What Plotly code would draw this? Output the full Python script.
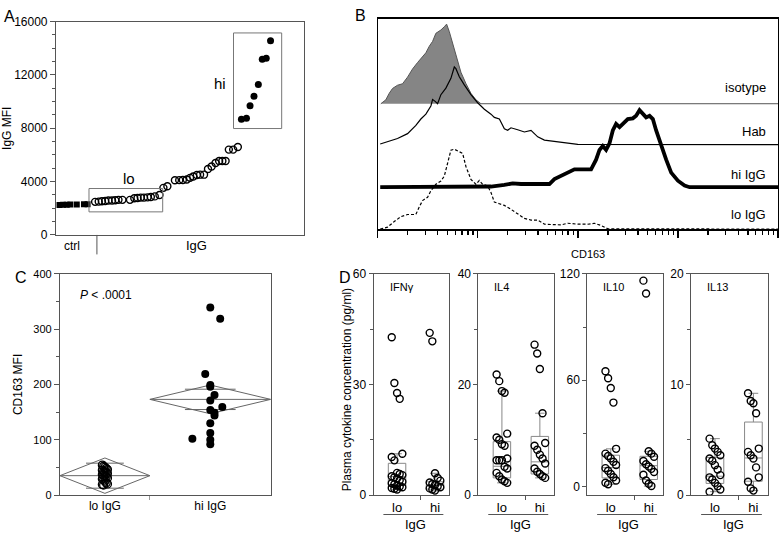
import math
import plotly.graph_objects as go

FONT = "Liberation Sans, Arial, sans-serif"
OFF = 0
W, H = 780, 540

# ---------------- Panel A data ----------------
ctrl_rank = [1, 2, 3, 4, 5.8, 7.8, 8.8]
ctrl_mfi = [2250, 2260, 2270, 2280, 2290, 2300, 2310]
lo_rank = [10.9, 11.9, 12.8, 13.7, 14.6, 15.6, 16.5, 17.4, 18.5, 20.6, 21.8, 22.7, 23.6, 24.5,
           25.5, 26.4, 27.5, 28.8, 29.9, 31.0, 33.1, 34.3, 35.3, 36.4, 37.3, 38.2, 39.2, 40.1,
           41.2, 42.3, 43.3, 44.4, 45.4, 46.3, 47.2, 48.1, 49.3, 50.6]
lo_mfi = [2480, 2500, 2530, 2550, 2580, 2580, 2600, 2630, 2630, 2630, 2750, 2770, 2800, 2800,
          2820, 2850, 2890, 2990, 3530, 3650, 4100, 4110, 4120, 4160, 4280, 4380, 4500, 4520,
          4520, 4940, 5130, 5400, 5540, 5540, 5540, 6400, 6400, 6590]
hi_rank = [51.6, 53.0, 54.0, 55.1, 56.3, 57.4, 58.5, 59.7]
hi_mfi = [8680, 8750, 9680, 10410, 11280, 13180, 13250, 14570]

# ---------------- Panel B data (log10 CD163, counts) ----------------
iso_log = [0.033, 0.083, 0.117, 0.15, 0.2, 0.25, 0.3, 0.35, 0.4, 0.45, 0.483, 0.517, 0.55,
           0.583, 0.633, 0.667, 0.69, 0.717, 0.75, 0.783, 0.833, 0.883, 0.933, 0.983, 1.033, 4.0]
iso_cnt = [0, 4, 10.7, 15.7, 19, 20.5, 27.3, 35.7, 42.3, 49, 52.3, 59, 64, 72.3, 75.7, 79,
           81.7, 74, 62.3, 49, 32.3, 20.7, 10.7, 4, 0, 0]
hab_log = [0.027, 0.1, 0.2, 0.3, 0.383, 0.433, 0.483, 0.533, 0.55, 0.573, 0.6, 0.633, 0.683,
           0.733, 0.767, 0.783, 0.817, 0.867, 0.933, 1.0, 1.067, 1.133, 1.167, 1.217, 1.267,
           1.3, 1.333, 1.4, 1.467, 1.533, 1.6, 1.667, 1.733, 1.8, 1.867, 1.933, 2.0, 4.0]
hab_cnt = [0.7, 3, 6.3, 11.3, 19.7, 26.3, 31.3, 39.7, 46.3, 44.7, 42, 51.3, 58, 68, 79.7, 78,
           69.7, 61.3, 51.3, 43, 36.3, 31.3, 28, 26.3, 16.3, 14.7, 17.3, 15.3, 13, 14.7, 8,
           4.7, 3.7, 3, 2.3, 1.3, 0.3, 0]
hiB_log = [0.027, 1.1, 1.133, 1.267, 1.35, 1.433, 1.533, 1.667, 1.717, 1.767, 1.833, 1.9,
           1.967, 2.133, 2.183, 2.217, 2.25, 2.283, 2.317, 2.35, 2.383, 2.417, 2.5, 2.55, 2.583,
           2.617, 2.65, 2.683, 2.717, 2.75, 2.783, 2.833, 2.883, 2.933, 3.0, 3.067, 3.117, 4.0]
hiB_cnt = [0, 0, 0.7, 2.3, 4, 3.3, 3.3, 3.3, 3.3, 8.3, 11.7, 15, 18.3, 18.3, 28.3, 38.3, 42.3,
           38.3, 45, 58.3, 65, 61.7, 70, 70.7, 73.3, 79, 75, 71.7, 73.3, 70, 58.3, 41.7, 28.3,
           15, 6.7, 1.7, 0, 0]
loB_log = [0.027, 0.1, 0.167, 0.233, 0.3, 0.383, 0.417, 0.45, 0.5, 0.533, 0.583, 0.633, 0.667,
           0.7, 0.733, 0.767, 0.817, 0.85, 0.883, 0.933, 0.983, 1.017, 1.05, 1.1, 1.133, 1.167,
           1.217, 1.267, 1.333, 1.4, 1.467, 1.533, 1.6, 1.667, 1.833, 1.9, 2.0, 2.1, 2.167,
           2.233, 2.3, 4.0]
loB_cnt = [0, 2, 7.7, 12.7, 15, 15, 22.7, 29.3, 32.7, 39.3, 46, 49.3, 54.3, 67.7, 81, 82,
           79.3, 77.7, 64.3, 51, 46, 50, 46, 44.3, 37.7, 27.7, 26, 24.3, 20.3, 16, 11, 9.3, 9.3,
           5, 4.3, 6, 5, 5, 6, 3.7, 0.3, 0]
hist_labels = ["isotype", "Hab", "hi IgG", "lo IgG"]

# ---------------- Panel C data ----------------
groups_c = ["lo IgG", "hi IgG"]
c_lo = [54, 52, 50, 48, 46, 45, 43, 42, 40, 39, 37, 36, 35, 33, 31, 29, 27, 25, 22, 20, 19, 18]
c_hi = [339, 319, 219, 199, 196, 181, 171, 159, 154, 149, 144, 130, 112, 102, 100, 92]
c_hi_jit = [0, 0.047, -0.024, 0, 0, 0.02, 0, 0.057, 0, 0.02, 0.02, 0, 0, -0.085, 0, 0]
c_mean = [35, 173]
c_ci = [32, 26]

# ---------------- Panel D data ----------------
cyto_names = ["IFNγ", "IL4", "IL10", "IL13"]
cyto_lo = [
    [42.8, 30.4, 27.7, 26.1, 11.2, 10.3, 9.4, 6.0, 5.7, 5.4, 5.1, 4.8, 4.5, 4.0, 3.6, 3.2, 2.9,
     2.6, 2.3, 2.1, 1.9, 1.7, 1.5],
    [21.8, 20.6, 18.8, 18.5, 11.1, 10.4, 10.0, 9.2, 8.9, 6.6, 6.3, 6.3, 6.3, 5.1, 4.8, 4.0, 3.4,
     2.8, 2.5, 2.2],
    [65.1, 61.1, 55.6, 47.4, 21.3, 18.6, 17.3, 15.9, 14.0, 12.2, 10.4, 8.9, 7.1, 5.3, 3.4, 2.2,
     1.3],
    [5.1, 4.5, 4.2, 3.9, 3.6, 3.3, 3.1, 2.7, 2.3, 1.8, 1.6, 1.4, 1.1, 0.8, 0.5, 0.3],
]
cyto_hi = [
    [44.0, 41.7, 5.9, 4.6, 3.9, 3.4, 3.0, 2.7, 2.4, 2.1, 1.8, 1.5, 1.2],
    [27.2, 25.6, 22.8, 14.8, 9.4, 8.9, 8.2, 7.3, 6.6, 5.7, 4.8, 4.2, 3.8, 3.4, 3.1],
    [116.2, 108.9, 19.9, 18.6, 16.8, 14.4, 12.6, 11.3, 10.0, 8.2, 6.7, 3.4, 1.6, 0.3],
    [9.2, 8.5, 8.3, 7.4, 4.2, 3.9, 3.6, 3.3, 2.5, 1.6, 1.2, 0.6, 0.4],
]
# box stats: [lowerfence, q1, median, q3, upperfence]
box_lo = [[1.5, 2.6, 5.0, 8.6, 11.2], [2.2, 3.1, 5.2, 9.65, 18.8],
          [1.3, 4.9, 10.7, 17.7, 21.3], [0.3, 1.05, 1.7, 3.4, 5.1]]
box_hi = [[1.1, 1.6, 2.6, 3.6, 5.9], [3.1, 3.8, 6.0, 10.6, 14.8],
          [0.3, 4.0, 11.8, 17.1, 19.9], [0.4, 1.25, 3.35, 6.6, 9.2]]
cyto_range = [[0, 60], [0, 40], [-4.75, 120], [0, 20]]
cyto_dtick = [30, 20, 60, 10]


def px(x):
    return (x - OFF) / W


def py(y):
    return 1 - (y - OFF) / H


def note(x, y, text, size=12, xanchor="center", **kw):
    d = dict(x=px(x), y=py(y), xref="paper", yref="paper", text=text, showarrow=False,
             xanchor=xanchor, yanchor="middle", font=dict(size=size, color="black"))
    d.update(kw)
    return d


fig = go.Figure()
annos = []
shapes = []
AX = "#555555"

# ---------------- Panel A ----------------
fig.add_trace(go.Scatter(x=ctrl_rank, y=ctrl_mfi, mode="markers",
                         marker=dict(symbol="square", size=6, color="black"),
                         xaxis="x", yaxis="y"))
fig.add_trace(go.Scatter(x=lo_rank, y=lo_mfi, mode="markers",
                         marker=dict(symbol="circle-open", size=7, color="black",
                                     line=dict(width=1.4)),
                         xaxis="x", yaxis="y"))
fig.add_trace(go.Scatter(x=hi_rank, y=hi_mfi, mode="markers",
                         marker=dict(symbol="circle", size=7, color="black"),
                         xaxis="x", yaxis="y"))
shapes.append(dict(type="rect", xref="x", yref="y", x0=9.2, x1=29.7, y0=1730, y1=3480,
                   line=dict(color="#777", width=1)))
shapes.append(dict(type="rect", xref="x", yref="y", x0=49.4, x1=62.8, y0=7980, y1=15150,
                   line=dict(color="#777", width=1)))
shapes.append(dict(type="line", xref="x", yref="paper", x0=11.4, x1=11.4,
                   y0=py(234), y1=py(254), line=dict(color=AX, width=1)))
annos += [
    dict(x=20.3, y=4250, xref="x", yref="y", text="lo", showarrow=False,
         xanchor="center", yanchor="middle", font=dict(size=15)),
    dict(x=45.6, y=11380, xref="x", yref="y", text="hi", showarrow=False,
         xanchor="center", yanchor="middle", font=dict(size=15)),
    note(71, 245, "ctrl", 12),
    note(196, 245, "IgG", 13),
    note(9, 10, "A", 16),
]

# ---------------- Panel B ----------------
offsets = [128.7, 86.7, 43, 0]
fig.add_trace(go.Scatter(x=iso_log, y=[c + offsets[0] for c in iso_cnt], mode="lines",
                         fill="toself", fillcolor="#858585",
                         line=dict(color="#555", width=1), xaxis="x2", yaxis="y2"))
fig.add_trace(go.Scatter(x=hab_log, y=[c + offsets[1] for c in hab_cnt], mode="lines",
                         line=dict(color="black", width=1.2), xaxis="x2", yaxis="y2"))
fig.add_trace(go.Scatter(x=hiB_log, y=[c + offsets[2] for c in hiB_cnt], mode="lines",
                         line=dict(color="black", width=3.8), xaxis="x2", yaxis="y2"))
fig.add_trace(go.Scatter(x=loB_log, y=[c + offsets[3] for c in loB_cnt], mode="lines",
                         line=dict(color="black", width=1.2, dash="3px,2px"),
                         xaxis="x2", yaxis="y2"))
lab_y = [83, 128, 172, 213]
for t, yy in zip(hist_labels, lab_y):
    annos.append(note(768, yy, t, 13, xanchor="right"))
annos += [
    note(588, 254, "CD163", 11),
    note(360, 9, "B", 16),
]
minor_b = [d + math.log10(k) for d in range(4) for k in range(2, 10)]

# ---------------- Panel C ----------------
c_edges = [0, 0.427, 1]
c_cent = [(c_edges[i] + c_edges[i + 1]) / 2 for i in range(2)]
for i in range(2):
    x0, x1, xc = c_edges[i], c_edges[i + 1], c_cent[i]
    m, ci = c_mean[i], c_ci[i]
    fig.add_trace(go.Scatter(x=[x0, xc, x1, xc, x0], y=[m, m + ci, m, m - ci, m],
                             mode="lines", line=dict(color="#666", width=1),
                             xaxis="x3", yaxis="y3"))
    fig.add_trace(go.Scatter(x=[x0, x1], y=[m, m], mode="lines",
                             line=dict(color="#666", width=1), xaxis="x3", yaxis="y3"))
    hw = (x1 - x0) * 0.21
    for s in (1, -1):
        yy = m + s * ci / math.sqrt(2)
        fig.add_trace(go.Scatter(x=[xc - hw, xc + hw], y=[yy, yy], mode="lines",
                                 line=dict(color="#666", width=1), xaxis="x3", yaxis="y3"))
lo_jit = [((i % 5) - 2) * 0.006 for i in range(len(c_lo))]
fig.add_trace(go.Scatter(x=[c_cent[0] + j for j in lo_jit], y=c_lo, mode="markers",
                         marker=dict(symbol="circle-open", size=8, color="black",
                                     line=dict(width=1.3)),
                         xaxis="x3", yaxis="y3"))
fig.add_trace(go.Scatter(x=[c_cent[1] + j for j in c_hi_jit], y=c_hi, mode="markers",
                         marker=dict(symbol="circle", size=8, color="black"),
                         xaxis="x3", yaxis="y3"))
annos += [
    note(77, 296, "<i>P</i> < .0001", 12, xanchor="left"),
    note(20, 278, "C", 16),
]

# ---------------- Panel D ----------------
d_left = [373, 478, 587, 691]
d_right = [449, 554, 663, 768]
d_pos = [0.31, 0.81]
d_sep = 0.62
for k in range(4):
    xa, ya = "x%d" % (k + 4), "y%d" % (k + 4)
    for g, (vals, st) in enumerate([(cyto_lo[k], box_lo[k]), (cyto_hi[k], box_hi[k])]):
        fig.add_trace(go.Box(x=[d_pos[g]], lowerfence=[st[0]], q1=[st[1]], median=[st[2]],
                             q3=[st[3]], upperfence=[st[4]], width=0.23, whiskerwidth=0.55,
                             line=dict(color="#888", width=1), fillcolor="rgba(0,0,0,0)",
                             boxpoints=False, xaxis=xa, yaxis=ya))
        jit = [((i % 5) - 2) * 0.035 for i in range(len(vals))]
        fig.add_trace(go.Scatter(x=[d_pos[g] + j for j in jit], y=vals, mode="markers",
                                 marker=dict(symbol="circle-open", size=7, color="black",
                                             line=dict(width=1.4)),
                                 xaxis=xa, yaxis=ya))
    annos.append(note(d_left[k] + 14, 287, cyto_names[k], 11, xanchor="left"))
    annos.append(dict(x=0.55, y=py(531), xref=xa + " domain", yref="paper", text="IgG",
                      showarrow=False, xanchor="center", yanchor="middle",
                      font=dict(size=13, color="black")))
    shapes.append(dict(type="line", xref=xa, yref="paper", x0=0.13, x1=0.92,
                       y0=py(521), y1=py(521), line=dict(color=AX, width=1.2)))
annos += [
    note(344, 278, "D", 16),
    note(346, 393, "Plasma cytokine concentration (pg/ml)", 12, textangle=-90),
]

# ---------------- Layout ----------------
base_ax = dict(showline=True, linecolor=AX, linewidth=1, mirror=True, showgrid=False,
               zeroline=False, tickfont=dict(size=12, color="black"))

layout = dict(
    width=W, height=H, margin=dict(l=0, r=0, t=0, b=0), showlegend=False,
    plot_bgcolor="white", paper_bgcolor="white",
    font=dict(family=FONT, color="black"),
    annotations=annos, shapes=shapes,
)
layout["xaxis"] = dict(base_ax, domain=[px(55), px(303)], range=[0, 68.9], anchor="y",
                       showticklabels=False, ticks="")
layout["yaxis"] = dict(base_ax, domain=[py(234), py(15)], range=[0, 16000], anchor="x",
                       tickvals=[0, 4000, 8000, 12000, 16000], tickformat="d",
                       ticks="outside", ticklen=5,
                       tickcolor=AX, minor=dict(dtick=1000, ticks="outside", ticklen=3,
                                                tickcolor=AX),
                       title=dict(text="IgG MFI", font=dict(size=12), standoff=6))
layout["xaxis2"] = dict(base_ax, domain=[px(377), px(778)], range=[0, 4], anchor="y2",
                        linecolor="black", linewidth=1.5, tickvals=[0, 1, 2, 3, 4],
                        showticklabels=False, ticks="outside", ticklen=7, tickwidth=1.5,
                        tickcolor="black",
                        minor=dict(tickvals=minor_b, ticks="outside", ticklen=4,
                                   tickwidth=1.3, tickcolor="black"))
layout["yaxis2"] = dict(base_ax, domain=[py(228), py(12)], range=[0, 216], anchor="x2",
                        linecolor="black", showticklabels=False, ticks="")
layout["xaxis3"] = dict(base_ax, domain=[px(59), px(270)], range=[0, 1], anchor="y3",
                        tickvals=c_cent, ticktext=groups_c, ticks="",
                        minor=dict(tickvals=[0.427], ticks="outside", ticklen=4,
                                   tickcolor="#999"))
layout["yaxis3"] = dict(base_ax, domain=[py(501), py(274)], range=[0, 400], anchor="x3",
                        dtick=100, ticks="outside", ticklen=5, tickcolor=AX,
                        tickfont=dict(size=11, color="black"),
                        minor=dict(dtick=50, ticks="outside", ticklen=3, tickcolor=AX),
                        title=dict(text="CD163 MFI", font=dict(size=12), standoff=8))
for k in range(4):
    n = k + 4
    layout["xaxis%d" % n] = dict(base_ax, domain=[px(d_left[k]), px(d_right[k])],
                                 range=[0, 1], anchor="y%d" % n, tickvals=d_pos,
                                 ticktext=["lo", "hi"], ticks="",
                                 tickfont=dict(size=13, color="black"),
                                 minor=dict(tickvals=[d_sep], ticks="outside", ticklen=4,
                                            tickcolor=AX))
    layout["yaxis%d" % n] = dict(base_ax, domain=[py(501), py(274)], range=cyto_range[k],
                                 anchor="x%d" % n, tick0=0, dtick=cyto_dtick[k],
                                 ticks="outside", ticklen=4, tickcolor=AX,
                                 minor=dict(dtick=cyto_dtick[k] / 2, ticks="outside",
                                            ticklen=3, tickcolor=AX))

fig.update_layout(**layout)
fig.write_html("out.html", config={"displayModeBar": False, "staticPlot": True},
               post_script="document.body.style.margin='0';"
                           "document.body.style.overflow='hidden';")
